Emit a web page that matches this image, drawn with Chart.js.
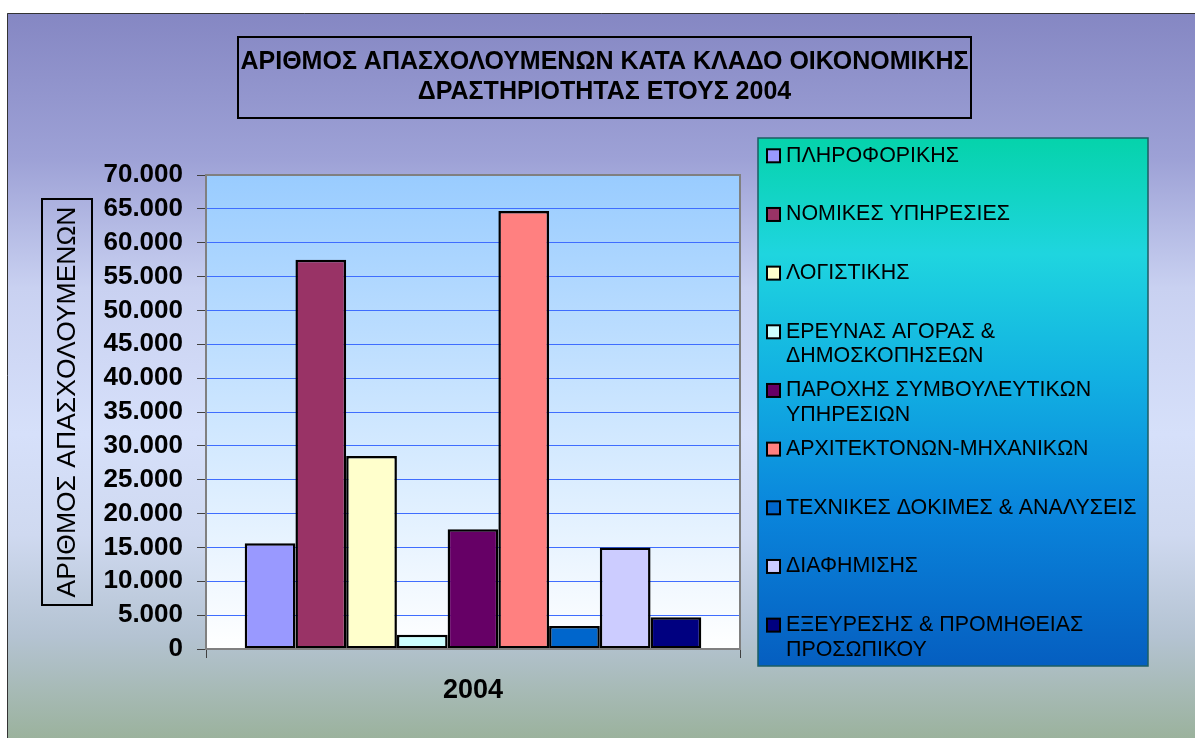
<!DOCTYPE html>
<html>
<head>
<meta charset="utf-8">
<script src="https://cdn.jsdelivr.net/npm/chart.js@4/dist/chart.umd.min.js"></script>
<style>
	body { margin: 0; background: #ffffff; }
	canvas { display: block; }
</style>
</head>
<body>
<canvas id="chart-apasxoloumenoi" width="1195" height="738"></canvas>
<script>
// data
var categories = ["2004"];

var seriesNames = [
	"ΠΛΗΡΟΦΟΡΙΚΗΣ",
	"ΝΟΜΙΚΕΣ ΥΠΗΡΕΣΙΕΣ",
	"ΛΟΓΙΣΤΙΚΗΣ",
	["ΕΡΕΥΝΑΣ ΑΓΟΡΑΣ &", "ΔΗΜΟΣΚΟΠΗΣΕΩΝ"],
	["ΠΑΡΟΧΗΣ ΣΥΜΒΟΥΛΕΥΤΙΚΩΝ", "ΥΠΗΡΕΣΙΩΝ"],
	"ΑΡΧΙΤΕΚΤΟΝΩΝ-ΜΗΧΑΝΙΚΩΝ",
	"ΤΕΧΝΙΚΕΣ ΔΟΚΙΜΕΣ & ΑΝΑΛΥΣΕΙΣ",
	"ΔΙΑΦΗΜΙΣΗΣ",
	["ΕΞΕΥΡΕΣΗΣ & ΠΡΟΜΗΘΕΙΑΣ", "ΠΡΟΣΩΠΙΚΟΥ"]
];

var seriesValues = [15600, 57500, 28500, 2100, 17700, 64700, 3400, 15000, 4700];

var seriesColors = ["#9999FF", "#993366", "#FFFFCC", "#CCFFFF", "#660066", "#FF8080", "#0066CC", "#CCCCFF", "#000080"];

var yTickMin = 0;
var yTickMax = 70000;
var yTickStep = 5000;

var titleLines = ["ΑΡΙΘΜΟΣ ΑΠΑΣΧΟΛΟΥΜΕΝΩΝ ΚΑΤΑ ΚΛΑΔΟ ΟΙΚΟΝΟΜΙΚΗΣ", "ΔΡΑΣΤΗΡΙΟΤΗΤΑΣ ΕΤΟΥΣ 2004"];
var yAxisTitle = "ΑΡΙΘΜΟΣ ΑΠΑΣΧΟΛΟΥΜΕΝΩΝ";

var FONT = "'Liberation Sans', Arial, sans-serif";

function FormatThousands(value)
{
	return String(value).replace(/\B(?=(\d{3})+(?!\d))/g, ".");
}

var datasets = [];
for (var i = 0; i < seriesNames.length; i++)
{
	datasets.push({
		label: seriesNames[i],
		data: [seriesValues[i]],
		backgroundColor: seriesColors[i],
		borderColor: "#000000",
		borderWidth: 2.5,
		borderSkipped: false
	});
}

var decorPlugin = {
	id: "decor",
	beforeDraw: function(chart)
	{
		var ctx = chart.ctx;
		var area = chart.chartArea;
		ctx.save();

		ctx.fillStyle = "#ffffff";
		ctx.fillRect(0, 0, chart.width, chart.height);

		// outer background
		var bg = ctx.createLinearGradient(0, 13, 0, chart.height);
		bg.addColorStop(0, "#8587C3");
		bg.addColorStop(0.2, "#9DA1D6");
		bg.addColorStop(0.38, "#C9D1F1");
		bg.addColorStop(0.58, "#D6E0FA");
		bg.addColorStop(0.72, "#CFD9F0");
		bg.addColorStop(0.86, "#B4C3D2");
		bg.addColorStop(1, "#9BB29D");
		ctx.fillStyle = bg;
		ctx.fillRect(7, 13, chart.width - 7, chart.height - 13);

		ctx.strokeStyle = "#333333";
		ctx.lineWidth = 1;
		ctx.beginPath();
		ctx.moveTo(7.5, chart.height);
		ctx.lineTo(7.5, 13.5);
		ctx.lineTo(chart.width, 13.5);
		ctx.stroke();

		// plot area
		var pg = ctx.createLinearGradient(0, area.top, 0, area.bottom);
		pg.addColorStop(0, "#99CCFF");
		pg.addColorStop(1, "#FFFFFF");
		ctx.fillStyle = pg;
		ctx.fillRect(area.left, area.top, area.right - area.left, area.bottom - area.top);

		ctx.restore();
	},
	afterDraw: function(chart)
	{
		var ctx = chart.ctx;
		var area = chart.chartArea;
		ctx.save();

		// plot area border
		ctx.strokeStyle = "#808080";
		ctx.lineWidth = 2;
		ctx.strokeRect(area.left, area.top, area.right - area.left, area.bottom - area.top);

		// title box
		ctx.strokeStyle = "#000000";
		ctx.lineWidth = 2;
		ctx.strokeRect(238, 37, 733, 81);
		ctx.fillStyle = "#000000";
		ctx.font = "bold 25px " + FONT;
		ctx.textAlign = "center";
		ctx.textBaseline = "middle";
		ctx.fillText(titleLines[0], 604.5, 62);
		ctx.fillText(titleLines[1], 604.5, 92);

		// y axis title box
		ctx.strokeRect(42, 199, 50, 406);
		ctx.save();
		ctx.translate(67, 402);
		ctx.rotate(-Math.PI / 2);
		ctx.font = "26.5px " + FONT;
		ctx.fillText(yAxisTitle, 0, 1);
		ctx.restore();

		// legend
		var lx = 758, ly = 138, lw = 390, lh = 528;
		var lg = ctx.createLinearGradient(0, ly, 0, ly + lh);
		lg.addColorStop(0, "#05D3AB");
		lg.addColorStop(0.22, "#1FD5DF");
		lg.addColorStop(0.45, "#12B1E2");
		lg.addColorStop(0.7, "#0A86DC");
		lg.addColorStop(1, "#055EC0");
		ctx.fillStyle = lg;
		ctx.fillRect(lx, ly, lw, lh);
		ctx.strokeStyle = "#1C5E63";
		ctx.lineWidth = 1.5;
		ctx.strokeRect(lx, ly, lw, lh);

		var slot = lh / chart.data.datasets.length;
		ctx.font = "21.4px " + FONT;
		ctx.textAlign = "left";
		ctx.textBaseline = "middle";
		chart.data.datasets.forEach(function(ds, idx)
		{
			var y = ly + 17.8 + idx * slot;
			ctx.fillStyle = ds.backgroundColor;
			ctx.fillRect(767, y - 6.5, 13, 13);
			ctx.strokeStyle = "#000000";
			ctx.lineWidth = 2;
			ctx.strokeRect(767, y - 6.5, 13, 13);

			var lines = Array.isArray(ds.label) ? ds.label : [ds.label];
			ctx.fillStyle = "#000000";
			lines.forEach(function(line, n)
			{
				ctx.fillText(line, 786, y + n * 24.8);
			});
		});

		ctx.restore();
	}
};

new Chart(document.getElementById("chart-apasxoloumenoi"), {
	type: "bar",
	data: {
		labels: categories,
		datasets: datasets
	},
	options: {
		responsive: false,
		animation: false,
		layout: {
			padding: { top: 175, right: 455, bottom: 0, left: 0 }
		},
		datasets: {
			bar: {
				categoryPercentage: 0.855,
				barPercentage: 1
			}
		},
		plugins: {
			legend: { display: false },
			title: { display: false },
			tooltip: { enabled: false }
		},
		scales: {
			x: {
				afterFit: function(scale) { scale.height = 89; },
				border: { display: false },
				grid: {
					drawOnChartArea: false,
					tickLength: 9,
					tickColor: "#404040",
					offset: true
				},
				ticks: {
					color: "#000000",
					padding: 16,
					font: { family: FONT, size: 27, weight: "bold" }
				}
			},
			y: {
				min: yTickMin,
				max: yTickMax,
				afterFit: function(scale) { scale.width = 206; },
				border: { display: false },
				grid: {
					color: "#3F6DFF",
					lineWidth: 1,
					tickLength: 9,
					tickColor: "#404040"
				},
				ticks: {
					stepSize: yTickStep,
					autoSkip: false,
					color: "#000000",
					padding: 14,
					font: { family: FONT, size: 26, weight: "bold" },
					callback: function(value) { return FormatThousands(value); }
				}
			}
		}
	},
	plugins: [decorPlugin]
});
</script>
</body>
</html>
